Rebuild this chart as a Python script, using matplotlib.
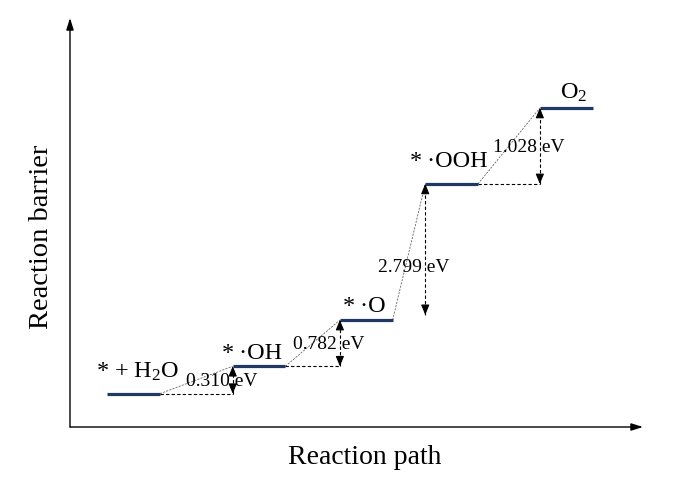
import matplotlib
matplotlib.use("Agg")
import matplotlib.pyplot as plt

plt.rcParams['font.family'] = ['Liberation Serif', 'DejaVu Serif']
plt.rcParams['mathtext.fontset'] = 'custom'
plt.rcParams['mathtext.rm'] = 'Liberation Serif'
plt.rcParams['mathtext.it'] = 'Liberation Serif:italic'

# ---- data ----
species = ["* + H$\\mathregular{_2}$O", "*\u2009·OH", "*\u2009·O", "*\u2009·OOH", "O$\\mathregular{_2}$"]
level_start = [0.65, 2.84, 4.71, 6.20, 8.20]      # reaction coordinate (arb.)
level_y = [0.57, 1.04, 1.83, 4.16, 5.46]          # drawn height (arb.)
barriers = ["0.310", "0.782", "2.799", "1.028"]   # eV
level_width = 0.92
has_horizontal = [True, True, False, True]

W, H = 684, 480
fig = plt.figure(figsize=(W / 100, H / 100), dpi=100)
# axes box: left 70px, right 643px, bottom 427px, top 18px
ax = fig.add_axes([70 / W, 1 - 427 / H, (643 - 70) / W, (427 - 18) / H])
ax.set_xlim(0, 10)
ax.set_ylim(0, 7)
ax.axis('off')

# axis arrows
arr = dict(arrowstyle='-|>,head_length=0.7,head_width=0.22', color='black',
           lw=1.0, shrinkA=0, shrinkB=0, mutation_scale=10)
ax.annotate('', xy=(0, 1), xytext=(0, 0), xycoords='axes fraction', arrowprops=arr)
ax.annotate('', xy=(1, 0), xytext=(0, 0), xycoords='axes fraction', arrowprops=arr)

navy = '#1f3864'
for x0, y in zip(level_start, level_y):
    ax.plot([x0, x0 + level_width], [y, y], color=navy, lw=2.3, solid_capstyle='butt', zorder=3)

# labels of species
label_off = [(4, 11), (-7, 2), (-2, 3), (-3, 12), (7, 4)]   # offset in px
for x0, y, s, (dx, dy) in zip(level_start, level_y, species, label_off):
    ax.annotate(s, xy=(x0 + level_width / 2, y), xytext=(dx * 0.72, dy * 0.72),
                textcoords='offset points', ha='center', va='bottom', fontsize=17.5)

head = dict(arrowstyle='-|>,head_length=0.6,head_width=0.25', color='black',
            lw=0.8, shrinkA=0, shrinkB=0, mutation_scale=10)
for i, b in enumerate(barriers):
    xe = level_start[i] + level_width
    xs = level_start[i + 1]
    y0, y1 = level_y[i], level_y[i + 1]
    # diagonal thin dashed
    ax.plot([xe, xs], [y0, y1], color='#666666', lw=0.6, ls=(0, (2.5, 1.5)), zorder=1)
    if has_horizontal[i]:
        ax.plot([xe, xs], [y0, y0], color='black', lw=0.8, ls=(0, (3, 2)), zorder=1)
    bottom_gap = 0 if has_horizontal[i] else 0.09
    yb = y0 + bottom_gap
    ax.plot([xs, xs], [yb, y1], color='black', lw=0.8, ls=(0, (3, 2)), zorder=2)
    ax.annotate('', xy=(xs, y1), xytext=(xs, y1 - 0.14), arrowprops=head)
    ax.annotate('', xy=(xs, yb), xytext=(xs, yb + 0.14), arrowprops=head)
    ymid = (yb + y1) / 2
    dy = -17 if not has_horizontal[i] else 0
    ax.annotate(f"{b} eV", xy=(xs, ymid), xytext=(-8, dy * 0.72 - 1),
                textcoords='offset points', ha='center', va='center', fontsize=14)

fig.text(365 / W, 1 - 458 / H, "Reaction path", ha='center', va='center', fontsize=20)
fig.text(42 / W, 1 - 237 / H, "Reaction barrier", ha='center', va='center',
         rotation=90, fontsize=20.5)

fig.savefig("out.png", dpi=100)
